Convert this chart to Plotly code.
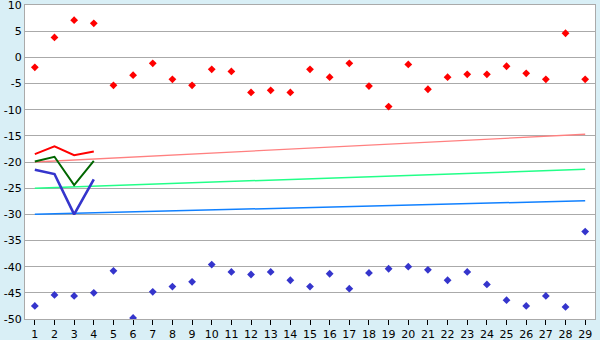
import plotly.graph_objects as go

cats = list(range(1, 30))
red_pts = [-1.9, 3.8, 7.1, 6.5, -5.35, -3.4, -1.15, -4.2, -5.35, -2.3,
           -2.7, -6.7, -6.3, -6.7, -2.3, -3.8, -1.15, -5.5, -9.4, -1.35,
           -6.1, -3.8, -3.25, -3.25, -1.7, -3.05, -4.2, 4.6, -4.2]
blue_pts = [-47.5, -45.4, -45.6, -45.0, -40.8, -49.8, -44.8, -43.8, -42.9, -39.6,
            -41.0, -41.5, -41.0, -42.6, -43.8, -41.35, -44.2, -41.2, -40.4, -40.0,
            -40.6, -42.6, -41.0, -43.4, -46.4, -47.5, -45.6, -47.7, -33.3]
line_x = [1, 2, 3, 4]
red_line = [-18.5, -17.0, -18.7, -18.0]
green_line = [-19.9, -19.0, -24.4, -19.8]
blue_line = [-21.5, -22.3, -30.0, -23.3]
trend_x = [1, 29]
pink_trend = [-20.0, -14.7]
green_trend = [-25.0, -21.4]
blue_trend = [-30.0, -27.4]
y_ticks = list(range(10, -55, -5))

fig = go.Figure()
fig.add_trace(go.Scatter(x=trend_x, y=pink_trend, mode="lines",
                         line=dict(color="#ff8080", width=1.3)))
fig.add_trace(go.Scatter(x=trend_x, y=green_trend, mode="lines",
                         line=dict(color="#22ff88", width=1.5)))
fig.add_trace(go.Scatter(x=trend_x, y=blue_trend, mode="lines",
                         line=dict(color="#1080ff", width=1.5)))
fig.add_trace(go.Scatter(x=line_x, y=red_line, mode="lines",
                         line=dict(color="#ff0000", width=2)))
fig.add_trace(go.Scatter(x=line_x, y=green_line, mode="lines",
                         line=dict(color="#006600", width=2)))
fig.add_trace(go.Scatter(x=line_x, y=blue_line, mode="lines",
                         line=dict(color="#3535cc", width=2.6)))
fig.add_trace(go.Scatter(x=cats, y=red_pts, mode="markers",
                         marker=dict(symbol="diamond", size=6, color="#ff0000")))
fig.add_trace(go.Scatter(x=cats, y=blue_pts, mode="markers",
                         marker=dict(symbol="diamond", size=6, color="#3535cc")))

fig.update_layout(
    width=600, height=340,
    margin=dict(l=25, r=5, t=5, b=21, autoexpand=False),
    paper_bgcolor="#d9eff6", plot_bgcolor="#ffffff",
    showlegend=False,
    font=dict(family="DejaVu Sans", size=11, color="#000000"),
)
fig.update_xaxes(range=[0.5, 29.5], tickvals=cats, ticktext=[str(c) for c in cats],
                 showgrid=False, zeroline=False, showline=True, linecolor="#aaaaaa",
                 mirror=True, ticks="outside", ticklen=5, tickcolor="#000000",
                 tickfont=dict(size=11), ticklabeloverflow="allow", automargin=False)
fig.update_yaxes(range=[-50, 10], tickvals=y_ticks, ticktext=[str(v) for v in y_ticks],
                 showgrid=True, gridcolor="#aaaaaa", gridwidth=1, zeroline=False,
                 showline=True, linecolor="#aaaaaa", mirror=True, ticks="",
                 tickfont=dict(size=11), ticklabeloverflow="allow", automargin=False)

fig.write_html("out.html")
